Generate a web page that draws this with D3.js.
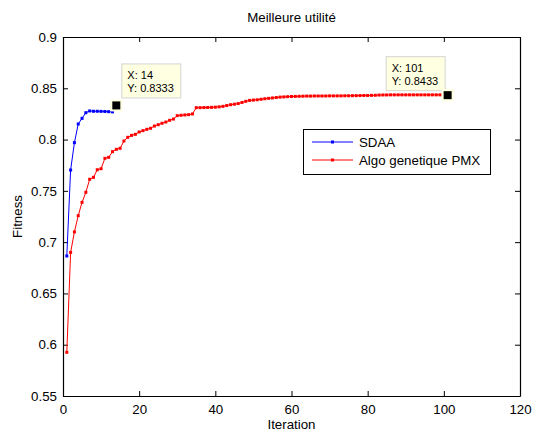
<!DOCTYPE html>
<html>
<head>
<meta charset="utf-8">
<script src="https://cdn.jsdelivr.net/npm/d3@7"></script>
<style>
  html, body { margin: 0; padding: 0; background: #fff; }
  svg { display: block; font-family: "Liberation Sans", Arial, sans-serif; }
</style>
</head>
<body>
<svg id="chart" width="533" height="432"></svg>
<script>
// ---- data ----
const chartTitle = "Meilleure utilité";
const xLabel = "Iteration";
const yLabel = "Fitness";
const xTicks = [0, 20, 40, 60, 80, 100, 120];
const yTicks = [0.55, 0.6, 0.65, 0.7, 0.75, 0.8, 0.85, 0.9];
const seriesNames = ["SDAA", "Algo genetique PMX"];
const sdaaValues = [0.6865, 0.7703, 0.7970, 0.8152, 0.8207, 0.8262, 0.8279, 0.8276, 0.8276, 0.8275, 0.8274, 0.8272, 0.8270];
const pmxValues = [
  0.5926, 0.6900, 0.7100, 0.7258, 0.7388, 0.7486, 0.7613, 0.7632, 0.7706, 0.7716,
  0.7817, 0.7827, 0.7882, 0.7905, 0.7915, 0.7986, 0.8022, 0.8041, 0.8051, 0.8074,
  0.8087, 0.8100, 0.8110, 0.8132, 0.8145, 0.8159, 0.8171, 0.8188, 0.8200, 0.8233,
  0.8237, 0.8240, 0.8243, 0.8250, 0.8311, 0.8311, 0.8312, 0.8313, 0.8314, 0.8316,
  0.8319, 0.8324, 0.8332, 0.8340, 0.8345, 0.8351, 0.8362, 0.8373, 0.8382, 0.8385,
  0.8388, 0.8393, 0.8398, 0.8402, 0.8406, 0.8410, 0.8414, 0.8416, 0.8418, 0.8420,
  0.8421, 0.8422, 0.8423, 0.8424, 0.8424, 0.8425, 0.8425, 0.8425, 0.8425, 0.8426,
  0.8426, 0.8426, 0.8426, 0.8427, 0.8427, 0.8428, 0.8428, 0.8429, 0.8430, 0.8430,
  0.8431, 0.8432, 0.8434, 0.8435, 0.8435, 0.8436, 0.8436, 0.8436, 0.8436, 0.8436,
  0.8436, 0.8436, 0.8436, 0.8436, 0.8436, 0.8436, 0.8436, 0.8436, 0.8436
];
const dataTips = [
  { x: 14, y: 0.8333, label: ["X: 14", "Y: 0.8333"], side: "right" },
  { x: 101, y: 0.8433, label: ["X: 101", "Y: 0.8433"], side: "left" }
];

// ---- layout ----
const svg = d3.select("#chart");
const mLeft = 63, mRight = 520, mTop = 37, mBottom = 396;
const x = d3.scaleLinear().domain([0, 120]).range([mLeft, mRight]);
const y = d3.scaleLinear().domain([0.55, 0.9]).range([mBottom, mTop]);
const fontSize = 13.3;

// axes
const tickFmt = d => String(+d.toFixed(2));
const axB = svg.append("g").attr("transform", `translate(0,${mBottom})`)
  .call(d3.axisBottom(x).tickValues(xTicks).tickSizeInner(-5).tickSizeOuter(0).tickPadding(6).tickFormat(tickFmt));
const axT = svg.append("g").attr("transform", `translate(0,${mTop})`)
  .call(d3.axisTop(x).tickValues(xTicks).tickSizeInner(-5).tickSizeOuter(0).tickFormat(""));
const axL = svg.append("g").attr("transform", `translate(${mLeft},0)`)
  .call(d3.axisLeft(y).tickValues(yTicks).tickSizeInner(-5).tickSizeOuter(0).tickPadding(6).tickFormat(tickFmt));
const axR = svg.append("g").attr("transform", `translate(${mRight},0)`)
  .call(d3.axisRight(y).tickValues(yTicks).tickSizeInner(-5).tickSizeOuter(0).tickFormat(""));
[axB, axT, axL, axR].forEach(g => {
  g.selectAll("path.domain").attr("stroke", "#000").attr("stroke-width", 1.2);
  g.selectAll(".tick line").attr("stroke", "#000").attr("stroke-width", 1);
  g.selectAll(".tick text").attr("fill", "#000").attr("font-size", fontSize)
    .attr("font-family", "'Liberation Sans', Arial, sans-serif");
});
axB.selectAll(".tick text").attr("dy", "0.9em");

// series
const line = d3.line().x(d => x(d.i)).y(d => y(d.v));
const series = [
  { name: seriesNames[0], color: "#0000ff", data: sdaaValues.map((v, k) => ({ i: k + 1, v })) },
  { name: seriesNames[1], color: "#ff0000", data: pmxValues.map((v, k) => ({ i: k + 1, v })) }
];
series.forEach(s => {
  svg.append("path").datum(s.data).attr("d", line)
    .attr("fill", "none").attr("stroke", s.color).attr("stroke-width", 1);
  svg.append("g").selectAll("rect").data(s.data).join("rect")
    .attr("x", d => x(d.i) - 1.5).attr("y", d => y(d.v) - 1.5)
    .attr("width", 3).attr("height", 3).attr("fill", s.color);
});

// title & labels
svg.append("text").attr("x", (mLeft + mRight) / 2).attr("y", 22)
  .attr("text-anchor", "middle").attr("font-size", fontSize).text(chartTitle);
svg.append("text").attr("x", (mLeft + mRight) / 2).attr("y", 429)
  .attr("text-anchor", "middle").attr("font-size", fontSize).text(xLabel);
svg.append("text").attr("transform", `translate(22,${(mTop + mBottom) / 2}) rotate(-90)`)
  .attr("text-anchor", "middle").attr("font-size", fontSize).text(yLabel);

// legend
const lg = svg.append("g");
lg.append("rect").attr("x", 303.5).attr("y", 129.5).attr("width", 187).attr("height", 45)
  .attr("fill", "#fff").attr("stroke", "#000").attr("stroke-width", 1);
series.forEach((s, k) => {
  const ly = 142 + k * 18;
  lg.append("line").attr("x1", 312).attr("x2", 353).attr("y1", ly).attr("y2", ly)
    .attr("stroke", s.color).attr("stroke-width", 1);
  lg.append("rect").attr("x", 331).attr("y", ly - 1.5).attr("width", 3).attr("height", 3).attr("fill", s.color);
  lg.append("text").attr("x", 359).attr("y", ly).attr("dy", "0.35em")
    .attr("font-size", fontSize).text(s.name);
});

// data tips
dataTips.forEach(t => {
  const px = x(t.x), py = y(t.y);
  const w = 59, h = 34;
  const bx = t.side === "right" ? px + 5 : px - 3 - w;
  const by = t.side === "right" ? py - 8 - h : py - 5 - h;
  svg.append("rect").attr("x", bx + 0.5).attr("y", by + 0.5).attr("width", w).attr("height", h)
    .attr("fill", "#ffffe1").attr("stroke", "#d4d4d4").attr("stroke-width", 1);
  t.label.forEach((l, k) => {
    svg.append("text").attr("x", bx + 6).attr("y", by + 12 + k * 13).attr("dy", "0.35em")
      .attr("font-size", 11).text(l);
  });
  svg.append("rect").attr("x", px - 6).attr("y", py - 6).attr("width", 12).attr("height", 12)
    .attr("fill", "#ffffe1");
  svg.append("rect").attr("x", px - 4).attr("y", py - 4).attr("width", 8).attr("height", 8)
    .attr("fill", "#000");
});
</script>
</body>
</html>
